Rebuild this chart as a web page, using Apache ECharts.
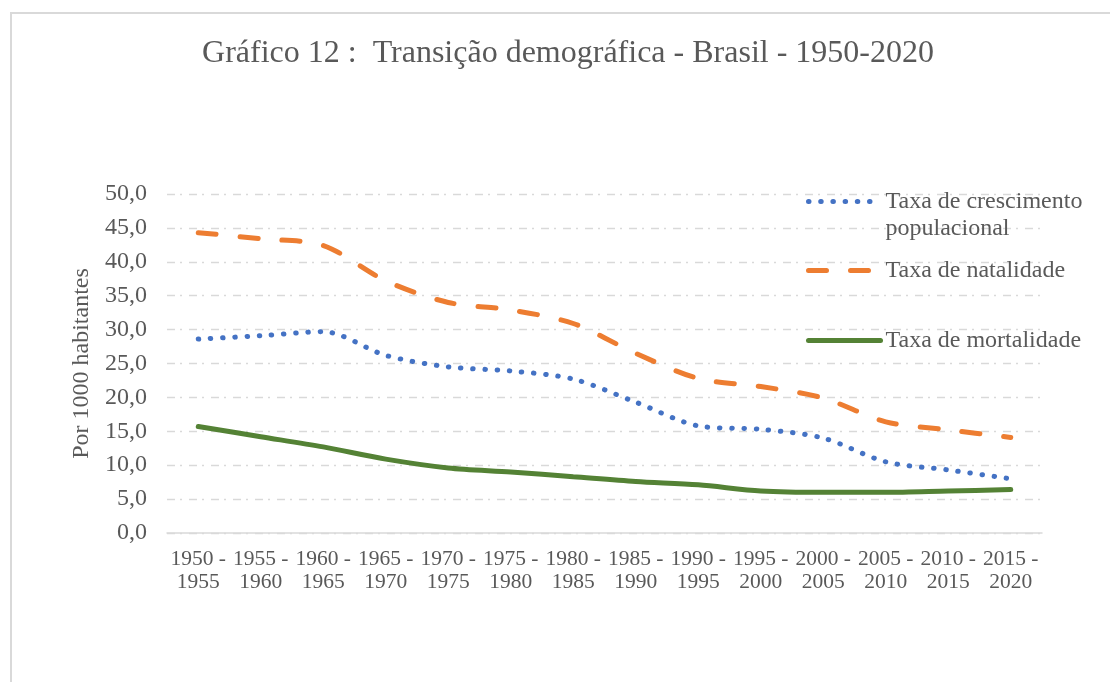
<!DOCTYPE html>
<html>
<head>
<meta charset="utf-8">
<script src="https://cdn.jsdelivr.net/npm/echarts@6/dist/echarts.min.js"></script>
<style>
  * { margin: 0; padding: 0; box-sizing: border-box; }
  html, body { width: 1110px; height: 682px; background: #fff; }
  #chart { width: 1110px; height: 682px; }
</style>
</head>
<body>
<div id="chart"></div>
<script>
  // categorias (períodos quinquenais)
  const periodos = ['1950 -\n1955', '1955 -\n1960', '1960 -\n1965', '1965 -\n1970', '1970 -\n1975',
    '1975 -\n1980', '1980 -\n1985', '1985 -\n1990', '1990 -\n1995', '1995 -\n2000',
    '2000 -\n2005', '2005 -\n2010', '2010 -\n2015', '2015 -\n2020'];

  // valores por 1000 habitantes
  const crescimento = [28.6, 29.1, 29.7, 26.2, 24.5, 23.9, 22.7, 19.3, 15.8, 15.3, 14.0, 10.5, 9.3, 8.0];
  const natalidade = [44.3, 43.4, 42.4, 37.2, 34.0, 32.9, 30.9, 26.5, 22.8, 21.6, 19.9, 16.4, 15.2, 14.1];
  const mortalidade = [15.7, 14.2, 12.7, 10.9, 9.6, 9.0, 8.3, 7.6, 7.1, 6.2, 6.0, 6.0, 6.2, 6.4];

  const nomes = ['Taxa de crescimento\npopulacional', 'Taxa de natalidade', 'Taxa de mortalidade'];

  const fonte = 'Liberation Serif';
  const cinza = '#595959';

  // estilos das linhas (usados na série e na legenda)
  const estiloCresc = { color: '#4472c4', width: 5, type: [0.5, 11.7], cap: 'round' };
  const estiloNat = { color: '#ed7d31', width: 5, type: [18, 24], cap: 'round' };
  const estiloMort = { color: '#548235', width: 5, type: 'solid', cap: 'round' };

  const myChart = echarts.init(document.getElementById('chart'));

  const legenda = (nome, top, estilo, fmt) => ({
    data: [nome],
    left: 806,
    top: top,
    padding: 0,
    itemWidth: 72,
    itemHeight: 14,
    selectedMode: false,
    itemStyle: { opacity: 0 },
    lineStyle: estilo,
    formatter: fmt,
    textStyle: { fontFamily: fonte, fontSize: 24, color: cinza, lineHeight: 27 }
  });

  const option = {
    animation: false,
    backgroundColor: '#fff',
    title: {
      text: 'Gráfico 12 :  Transição demográfica - Brasil - 1950-2020',
      left: 563,
      top: 33,
      textAlign: 'center',
      textStyle: { fontFamily: fonte, fontSize: 32, fontWeight: 'normal', color: cinza }
    },
    graphic: [{
      type: 'rect',
      shape: { x: 11, y: 13, width: 1200, height: 800 },
      style: { fill: 'none', stroke: '#d9d9d9', lineWidth: 2 },
      z: -1
    }],
    legend: [
      // linha vazia em cima para o ícone ficar alinhado com a primeira linha do texto
      legenda(nomes[0], 161, estiloCresc, n => ' \n' + n),
      legenda(nomes[1], 257, estiloNat, n => n),
      legenda(nomes[2], 327, estiloMort, n => n)
    ],
    grid: { left: 167, right: 68, top: 194, bottom: 149 },
    xAxis: {
      type: 'category',
      data: periodos,
      boundaryGap: true,
      axisLine: { lineStyle: { color: '#d9d9d9', width: 1.5 } },
      axisTick: { show: false },
      axisLabel: { fontFamily: fonte, fontSize: 21.5, color: cinza, lineHeight: 23, margin: 15, interval: 0 }
    },
    yAxis: {
      type: 'value',
      min: 0,
      max: 50,
      interval: 5,
      name: 'Por 1000 habitantes',
      nameLocation: 'middle',
      nameGap: 61,
      nameTextStyle: { fontFamily: fonte, fontSize: 24, color: cinza },
      axisLabel: {
        fontFamily: fonte, fontSize: 24, color: cinza, margin: 20,
        formatter: v => v.toFixed(1).replace('.', ',')
      },
      splitLine: { lineStyle: { color: '#d9d9d9', width: 1.3, type: [8, 5, 2, 7] } }
    },
    series: [
      {
        name: nomes[0],
        type: 'line',
        data: crescimento,
        smooth: 0.3,
        symbol: 'none',
        color: '#4472c4',
        lineStyle: estiloCresc
      },
      {
        name: nomes[1],
        type: 'line',
        data: natalidade,
        smooth: 0.3,
        symbol: 'none',
        color: '#ed7d31',
        lineStyle: estiloNat
      },
      {
        name: nomes[2],
        type: 'line',
        data: mortalidade,
        smooth: 0.3,
        symbol: 'none',
        color: '#548235',
        lineStyle: estiloMort
      }
    ]
  };

  myChart.setOption(option);
</script>
</body>
</html>
